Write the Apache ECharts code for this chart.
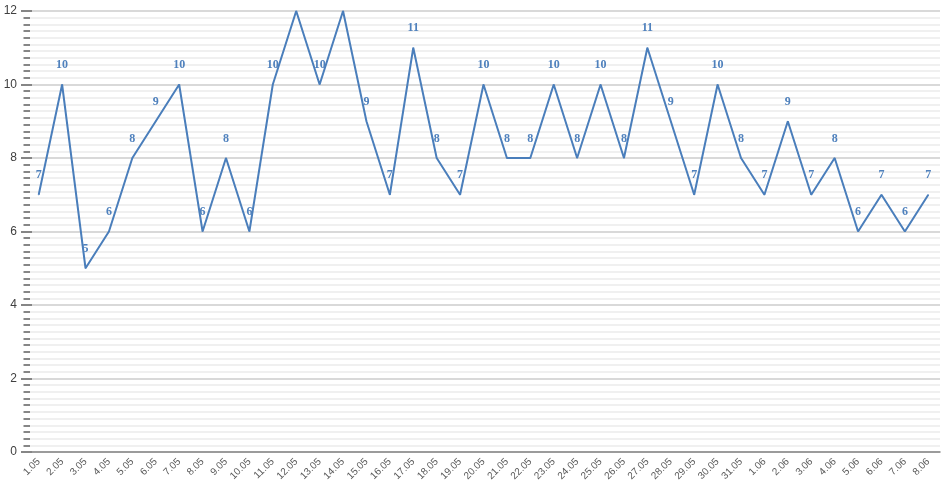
<!DOCTYPE html>
<html>
<head>
<meta charset="utf-8">
<script src="https://cdn.jsdelivr.net/npm/echarts@6/dist/echarts.min.js"></script>
<style>html,body{margin:0;padding:0;background:#fff;}#c{width:952px;height:488px;}</style>
</head>
<body>
<div id="c"></div>
<script>
const categories = ['1.05','2.05','3.05','4.05','5.05','6.05','7.05','8.05','9.05','10.05','11.05','12.05','13.05','14.05','15.05','16.05','17.05','18.05','19.05','20.05','21.05','22.05','23.05','24.05','25.05','26.05','27.05','28.05','29.05','30.05','31.05','1.06','2.06','3.06','4.06','5.06','6.06','7.06','8.06'];
const values = [7,10,5,6,8,9,10,6,8,6,10,12,10,12,9,7,11,8,7,10,8,8,10,8,10,8,11,9,7,10,8,7,9,7,8,6,7,6,7];
const yMin = 0, yMax = 12, yStep = 2;

const chart = echarts.init(document.getElementById('c'));
chart.setOption({
  animation: false,
  grid: { left: 27, right: 12, top: 11, bottom: 36 },
  xAxis: {
    type: 'category', data: categories, boundaryGap: true,
    axisLine: { lineStyle: { color: '#868686', width: 1.5 } },
    axisTick: { show: false },
    axisLabel: { rotate: 45, interval: 0, fontSize: 10, color: '#595959', fontFamily: 'Liberation Sans', margin: 8 }
  },
  yAxis: [{
    type: 'value', min: yMin, max: yMax, interval: yStep,
    axisLine: { show: false },
    axisTick: { show: true, length: 6, lineStyle: { color: '#868686', width: 2 } },
    minorTick: { show: true, splitNumber: 11, length: 3.5, lineStyle: { color: '#868686', width: 2 } },
    splitLine: { lineStyle: { color: '#d9d9d9', width: 2 } },
    minorSplitLine: { show: true, lineStyle: { color: '#ececec', width: 1.5 } },
    axisLabel: { fontSize: 12, color: '#404040', fontFamily: 'Liberation Sans', margin: 10 }
  }, {
    type: 'value', min: yMin, max: yMax, interval: yStep, position: 'left',
    axisLine: { show: false },
    axisTick: { show: true, inside: true, length: 5, lineStyle: { color: '#868686', width: 2 } },
    minorTick: { show: true, splitNumber: 11, length: 3, lineStyle: { color: '#868686', width: 2 } },
    splitLine: { show: false },
    axisLabel: { show: false }
  }],
  series: [{
    type: 'line', data: values, yAxisIndex: 0,
    symbol: 'circle', symbolSize: 1, showSymbol: true,
    itemStyle: { color: '#4a7ebb' },
    lineStyle: { color: '#4a7ebb', width: 2 },
    label: { show: true, position: 'top', distance: 13, color: '#4f81bd', fontWeight: 'bold', fontFamily: 'Liberation Serif', fontSize: 12 }
  }]
});
</script>
</body>
</html>
